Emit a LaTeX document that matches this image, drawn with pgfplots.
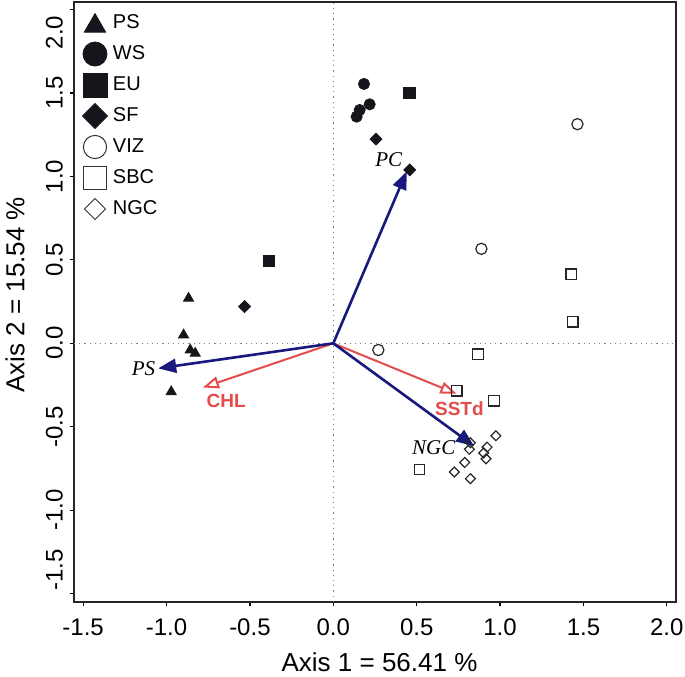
\documentclass[border=0pt]{standalone}
\usepackage{pgfplots}
\pgfplotsset{compat=1.18}
\usetikzlibrary{arrows.meta}
\usepackage{fontspec}
\setmainfont{Liberation Sans}
\newfontfamily\serifit{Liberation Serif}
\definecolor{arrblue}{RGB}{24,24,125}
\definecolor{arrred}{RGB}{228,76,76}
\definecolor{mk}{RGB}{20,22,28}
\begin{document}
\begin{tikzpicture}
\begin{axis}[
  scale only axis, width=301pt, height=300pt,
  at={(0,0)}, anchor=south west,
  xmin=-1.555, xmax=2.055, ymin=-1.55, ymax=2.045,
  xtick={-1.5,-1,-0.5,0,0.5,1,1.5,2},
  ytick={-1.5,-1,-0.5,0,0.5,1,1.5,2},
  xticklabels={-1.5,-1.0,-0.5,0.0,0.5,1.0,1.5,2.0},
  yticklabels={\hspace*{24pt}-1.5,-1.0,-0.5,0.0,0.5,1.0,1.5,2.0\hspace*{23pt}},
  tick align=outside, major tick length=2pt,
  xtick pos=bottom, ytick pos=left,
  tick style={black, line width=0.6pt},
  axis line style={line width=0.8pt, black!85},
  ticklabel style={font=\fontsize{12}{14}\selectfont},
  xticklabel style={yshift=-3pt},
  yticklabel style={rotate=90, anchor=south},
  xlabel={Axis 1 = 56.41 \%}, ylabel={Axis 2 = 15.54 \%},
  label style={font=\fontsize{13}{15}\selectfont, inner sep=0pt},
  xlabel style={at={(axis description cs:0.5075,-0.101)}, anchor=center},
  ylabel style={at={(axis description cs:-0.098,0.512)}, anchor=center},
  legend style={draw=none, fill=none, at={(axis description cs:0,1)}, anchor=north west,
    xshift=4pt, yshift=-4pt, font=\fontsize{10}{12}\selectfont,
    row sep=2.5pt, column sep=1.5pt, inner sep=0pt, outer sep=0pt,
    nodes={inner sep=1pt}},
  legend cell align=left,
]
% legend entries
\addlegendimage{legend image code/.code={\path[draw=none,fill=none] (-6.5pt,-6.5pt) rectangle (6.5pt,6.5pt);
  \draw[only marks, mark=triangle*, mark size=6.2pt, mk, fill=mk] plot coordinates {(0pt,-1.5pt)};}}
\addlegendentry{PS}
\addlegendimage{legend image code/.code={\path[draw=none,fill=none] (-6.5pt,-6.5pt) rectangle (6.5pt,6.5pt);
  \draw[only marks, mark=*, mark size=6pt, mk, fill=mk] plot coordinates {(0pt,0pt)};}}
\addlegendentry{WS}
\addlegendimage{legend image code/.code={\path[draw=none,fill=none] (-6.5pt,-6.5pt) rectangle (6.5pt,6.5pt);
  \draw[only marks, mark=square*, mark size=6pt, mk, fill=mk] plot coordinates {(0pt,0pt)};}}
\addlegendentry{EU}
\addlegendimage{legend image code/.code={\path[draw=none,fill=none] (-6.5pt,-6.5pt) rectangle (6.5pt,6.5pt);
  \draw[only marks, mark=square*, mark size=4.4pt, mk, fill=mk, every mark/.append style={rotate=45}] plot coordinates {(0pt,0pt)};}}
\addlegendentry{SF}
\addlegendimage{legend image code/.code={\path[draw=none,fill=none] (-6.5pt,-6.5pt) rectangle (6.5pt,6.5pt);
  \draw[only marks, mark=o, mark size=5.8pt, black!80, line width=0.5pt] plot coordinates {(0pt,0pt)};}}
\addlegendentry{VIZ}
\addlegendimage{legend image code/.code={\path[draw=none,fill=none] (-6.5pt,-6.5pt) rectangle (6.5pt,6.5pt);
  \draw[only marks, mark=square, mark size=5.8pt, black!80, line width=0.5pt] plot coordinates {(0pt,0pt)};}}
\addlegendentry{SBC}
\addlegendimage{legend image code/.code={\path[draw=none,fill=none] (-6.5pt,-6.5pt) rectangle (6.5pt,6.5pt);
  \draw[only marks, mark=square, mark size=3.7pt, black!80, line width=0.5pt, every mark/.append style={rotate=45}] plot coordinates {(0pt,0pt)};}}
\addlegendentry{NGC}

% zero lines
\addplot[forget plot, gray, dotted, line width=0.6pt] coordinates {(-1.555,0) (2.055,0)};
\addplot[forget plot, gray, dotted, line width=0.6pt] coordinates {(0,-1.55) (0,2.045)};

% arrows
\addplot[forget plot, arrred, line width=1pt, -{Triangle[open, length=8pt, width=6pt]}] coordinates {(0,0) (-0.782,-0.265)};
\addplot[forget plot, arrred, line width=1pt, -{Triangle[open, length=8pt, width=6pt]}] coordinates {(0,0) (0.738,-0.302)};
\addplot[forget plot, arrblue, line width=1.3pt, -{Triangle[length=9pt, width=7pt]}] coordinates {(0,0) (0.44,1.03)};
\addplot[forget plot, arrblue, line width=1.3pt, -{Triangle[length=9pt, width=7pt]}] coordinates {(0,0) (-1.05,-0.15)};
\addplot[forget plot, arrblue, line width=1.3pt, -{Triangle[length=9pt, width=7pt]}] coordinates {(0,0) (0.845,-0.616)};

% PS
\addplot[forget plot, only marks, mark=triangle*, mark size=2.9pt, mk, fill=mk] coordinates {
 (-0.868,0.27) (-0.898,0.05) (-0.858,-0.04) (-0.828,-0.06) (-0.972,-0.29)};
% WS
\addplot[forget plot, only marks, mark=*, mark size=2.8pt, mk, fill=mk] coordinates {
 (0.184,1.554) (0.218,1.432) (0.158,1.398) (0.14,1.358)};
% EU
\addplot[forget plot, only marks, mark=square*, mark size=2.8pt, mk, fill=mk] coordinates {
 (-0.386,0.494) (0.456,1.498)};
% SF
\addplot[forget plot, only marks, mark=square*, mark size=2.1pt, mk, fill=mk, every mark/.append style={rotate=45}] coordinates {
 (-0.532,0.22) (0.256,1.223) (0.458,1.039)};
% VIZ
\addplot[forget plot, only marks, mark=o, mark size=2.8pt, black!85, line width=0.6pt] coordinates {
 (1.464,1.313) (0.888,0.566) (0.27,-0.04)};
% SBC
\addplot[forget plot, only marks, mark=square, mark size=2.6pt, black!85, line width=0.6pt] coordinates {
 (1.426,0.414) (1.436,0.129) (0.868,-0.065) (0.74,-0.284) (0.964,-0.344) (0.516,-0.757)};
% NGC
\addplot[forget plot, only marks, mark=square, mark size=1.75pt, black!85, line width=0.6pt, every mark/.append style={rotate=45}] coordinates {
 (0.975,-0.554) (0.822,-0.596) (0.816,-0.635) (0.922,-0.622) (0.902,-0.657)
 (0.916,-0.692) (0.788,-0.714) (0.726,-0.771) (0.822,-0.811)};

% labels
\node[font=\serifit\itshape\fontsize{10.5}{12}\selectfont] at (axis cs:0.332,1.099) {PC};
\node[font=\serifit\itshape\fontsize{10.5}{12}\selectfont] at (axis cs:-1.138,-0.149) {PS};
\node[font=\serifit\itshape\fontsize{10.5}{12}\selectfont] at (axis cs:0.602,-0.624) {NGC};
\node[font=\bfseries\fontsize{9.5}{11}\selectfont, text=arrred] at (axis cs:-0.642,-0.344) {CHL};
\node[font=\bfseries\fontsize{9.5}{11}\selectfont, text=arrred] at (axis cs:0.756,-0.392) {SSTd};
\end{axis}
\pgfresetboundingbox
\path[use as bounding box] (-37pt,-37pt) rectangle (305.5pt,301pt);
\end{tikzpicture}
\end{document}
